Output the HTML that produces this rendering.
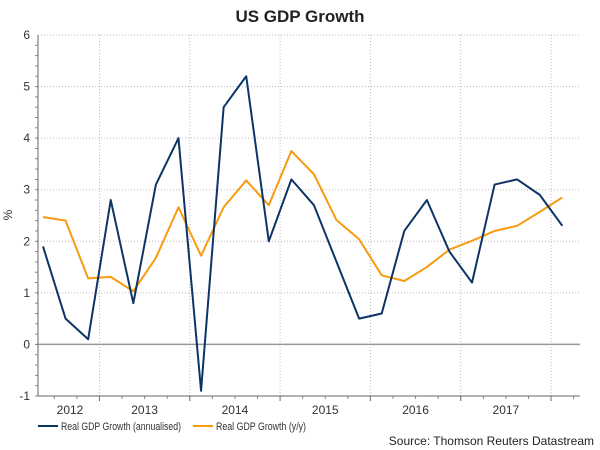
<!DOCTYPE html>
<html><head><meta charset="utf-8"><style>
body{margin:0;background:#fff;}
svg{display:block;font-family:"Liberation Sans",Arial,sans-serif;}
</style></head><body>
<svg id="chart" width="600" height="450">
<text x="300" y="22" text-anchor="middle" font-size="17" font-weight="bold" fill="#222">US GDP Growth</text>
<text transform="translate(12,215) rotate(-90)" text-anchor="middle" font-size="12" fill="#333">%</text>
<g id="grid"></g><g id="axes"></g><g id="series"></g>
<g>
<line x1="38" y1="426" x2="58" y2="426" stroke="#0d3466" stroke-width="2"/>
<text x="61" y="430" font-size="11" fill="#333" textLength="120" lengthAdjust="spacingAndGlyphs">Real GDP Growth (annualised)</text>
<line x1="193" y1="426" x2="213" y2="426" stroke="#f79b0f" stroke-width="2"/>
<text x="216" y="430" font-size="11" fill="#333" textLength="90" lengthAdjust="spacingAndGlyphs">Real GDP Growth (y/y)</text>
</g>
<text x="594" y="445" text-anchor="end" font-size="12" fill="#222">Source: Thomson Reuters Datastream</text>
</svg>
<script>
const yearLabels=["2012","2013","2014","2015","2016","2017"];
const yTicks=[-1,0,1,2,3,4,5,6];
const annualised=[1.9,0.5,0.1,2.8,0.8,3.1,4.0,-0.9,4.6,5.2,2.0,3.2,2.7,1.6,0.5,0.6,2.2,2.8,1.8,1.2,3.1,3.2,2.9,2.3];
const yoy=[2.47,2.4,1.28,1.31,1.03,1.68,2.66,1.72,2.66,3.18,2.7,3.75,3.3,2.41,2.04,1.34,1.23,1.5,1.84,2.01,2.2,2.3,2.57,2.85];
const NS="http://www.w3.org/2000/svg";
const L=38,R=580,T=35,B=396,QW=22.58,X0=43;
function y(v){return B-(v+1)*(B-T)/7;}
function x(i){return X0+i*QW;}
function mk(t,a,p){const e=document.createElementNS(NS,t);for(const k in a)e.setAttribute(k,a[k]);p.appendChild(e);return e;}
const grid=document.getElementById('grid'),axes=document.getElementById('axes'),ser=document.getElementById('series');
yTicks.forEach(v=>{
 if(v!==-1&&v!==0){const g=mk('line',{x1:L,x2:R,y1:y(v),y2:y(v),stroke:'#bbb','stroke-dasharray':'1,2'},grid);
 
 }
 const t=mk('text',{x:30,y:y(v)+4,'text-anchor':'end','font-size':12,fill:'#333'},axes);t.textContent=v;
 
 
});
for(let v=-1;v<6;v+=0.2){mk('line',{x1:L-3,x2:L,y1:y(v),y2:y(v),stroke:'#888'},axes);}
yearLabels.forEach((lab,k)=>{
 const bx=x(2.5+4*k);
 if(bx<R){const g=mk('line',{x1:bx,x2:bx,y1:T,y2:B,stroke:'#bbb','stroke-dasharray':'1,2'},grid);
 
 
 mk('line',{x1:bx,x2:bx,y1:B,y2:B+5,stroke:'#666'},axes);}
 const cx=x(0.5+4*k);
 const t=mk('text',{x:k==0?70:cx,y:414,'text-anchor':'middle','font-size':12,fill:'#333'},axes);t.textContent=lab;
 
 
});
for(let i=-1;i<25;i++){const qx=x(i+0.5);if(qx>L&&qx<R)mk('line',{x1:qx,x2:qx,y1:B,y2:B+3,stroke:'#888'},axes);}
const z=mk('line',{x1:L,x2:R,y1:y(0),y2:y(0),stroke:'#999','stroke-width':1.5},axes);


mk('line',{x1:L,x2:L,y1:T,y2:B,stroke:'#666'},axes);
mk('line',{x1:L,x2:R,y1:B,y2:B,stroke:'#666'},axes);
function line(d,c,name){const p=mk('polyline',{points:d.map((v,i)=>x(i)+','+y(v)).join(' '),fill:'none',stroke:c,'stroke-width':2,'stroke-linejoin':'round'},ser);
 
 }
line(yoy,'#f79b0f','series-yy');
line(annualised,'#0d3466','series-annualised');
</script>
</body></html>
